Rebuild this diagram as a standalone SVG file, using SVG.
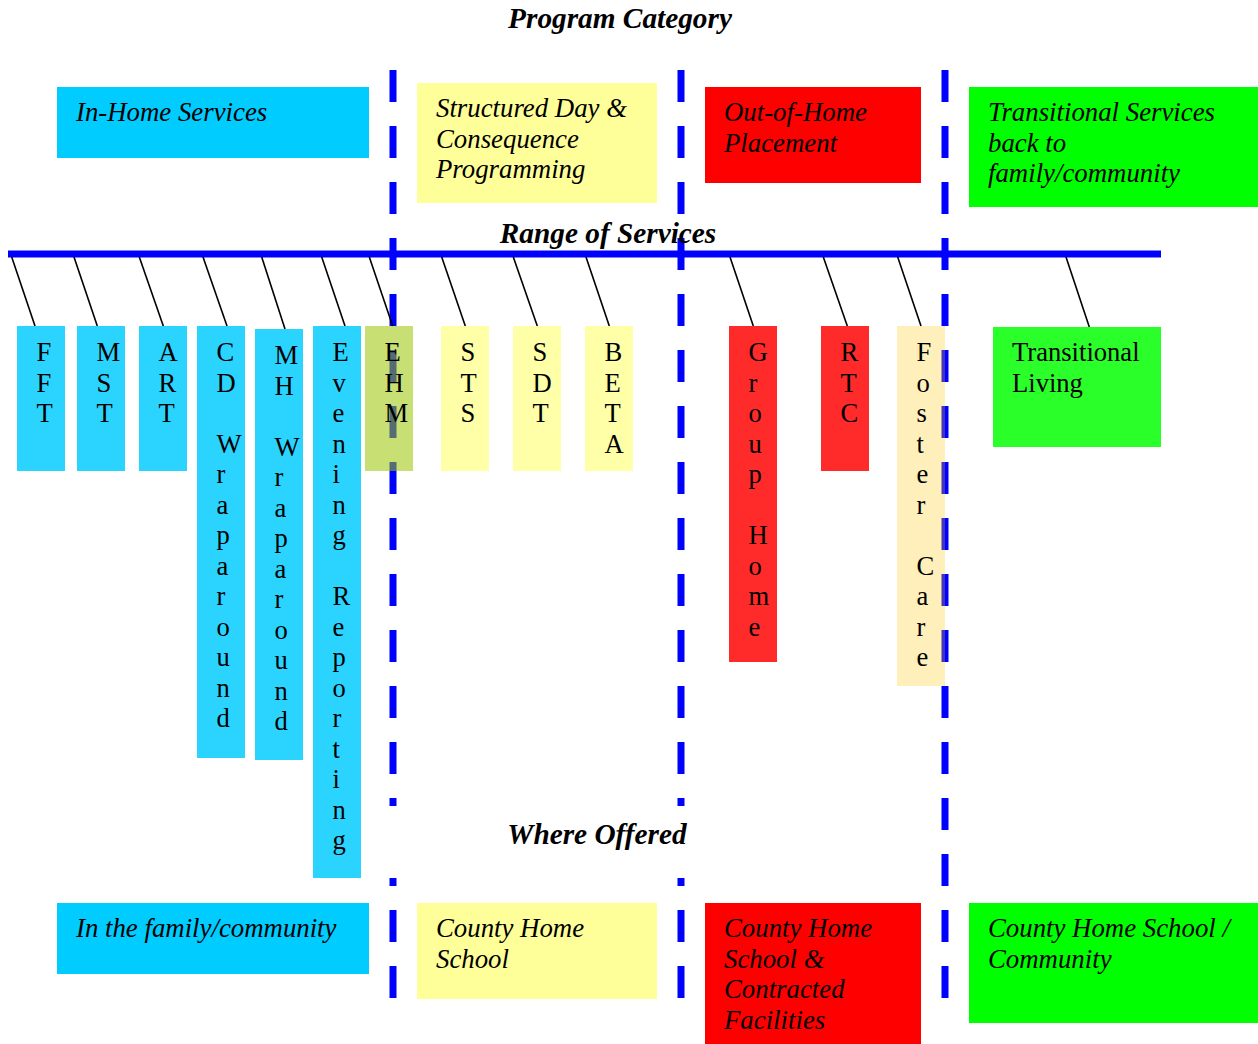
<svg xmlns="http://www.w3.org/2000/svg" width="1258" height="1044" viewBox="0 0 1258 1044">
<style>
  text { font-family: "Liberation Serif", "Times New Roman", serif; fill: #000; }
  .lbl { font-size: 26.6px; }
  .it { font-size: 26.8px; font-style: italic; }
  .ttl { font-size: 29.3px; font-weight: bold; font-style: italic; }
  .sep { stroke: #0000ff; stroke-width: 7; fill: none; stroke-dasharray: 32 24; }
  .conn { stroke: #000; stroke-width: 1.6; fill: none; }
  .cyan { fill: #00ccff; } .yel { fill: #ffff99; } .red { fill: #ff0000; } .grn { fill: #00ff00; }
  .cyan2 { fill: #2ad4ff; } .yel2 { fill: #ffffa8; } .red2 { fill: #ff2a2a; } .grn2 { fill: #2aff2a; }
</style>
<rect width="1258" height="1044" fill="#fff"/>

<g id="separators">
  <path class="sep" d="M393,70 V806"/>
  <path class="sep" d="M393,878 V998" style="stroke-dashoffset:24"/>
  <path class="sep" d="M681,70 V806"/>
  <path class="sep" d="M681,878 V998" style="stroke-dashoffset:24"/>
  <path class="sep" d="M945,70 V998"/>
</g>

<g id="titles">
  <text class="ttl" x="620" y="28" text-anchor="middle">Program Category</text>
  <text class="ttl" x="608" y="243" text-anchor="middle">Range of Services</text>
  <text class="ttl" x="597" y="844" text-anchor="middle">Where Offered</text>
</g>

<g id="range-line">
  <line x1="8" y1="254" x2="1161" y2="254" stroke="#0000ff" stroke-width="7"/>
</g>

<g id="connectors">
  <line class="conn" x1="11.7" y1="257" x2="35" y2="326"/>
  <line class="conn" x1="74" y1="257" x2="97.3" y2="326"/>
  <line class="conn" x1="139.3" y1="257" x2="163.3" y2="326"/>
  <line class="conn" x1="203" y1="257" x2="227" y2="326"/>
  <line class="conn" x1="261.7" y1="257" x2="285" y2="329"/>
  <line class="conn" x1="321.7" y1="257" x2="345" y2="326"/>
  <line class="conn" x1="369.3" y1="257" x2="392.7" y2="326"/>
  <line class="conn" x1="441.7" y1="257" x2="465.3" y2="326"/>
  <line class="conn" x1="513.3" y1="257" x2="537.3" y2="326"/>
  <line class="conn" x1="586" y1="257" x2="609.3" y2="326"/>
  <line class="conn" x1="730" y1="257" x2="753.3" y2="326"/>
  <line class="conn" x1="823.3" y1="257" x2="847.3" y2="326"/>
  <line class="conn" x1="897.7" y1="257" x2="921" y2="326"/>
  <line class="conn" x1="1066" y1="257" x2="1089.3" y2="327"/>
</g>

<g id="cat-inhome">
  <rect class="cyan" x="57" y="87" width="312" height="71"/>
  <text class="it" x="76" y="121">In-Home Services</text>
</g>
<g id="cat-structured">
  <rect class="yel" x="417" y="83" width="240" height="120"/>
  <text class="it" x="436" y="117">Structured Day &amp;<tspan x="436" dy="30.7">Consequence</tspan><tspan x="436" dy="30.7">Programming</tspan></text>
</g>
<g id="cat-outofhome">
  <rect class="red" x="705" y="87" width="216" height="96"/>
  <text class="it" x="724" y="121">Out-of-Home<tspan x="724" dy="30.7">Placement</tspan></text>
</g>
<g id="cat-transitional">
  <rect class="grn" x="969" y="87" width="289" height="120"/>
  <text class="it" x="988" y="121">Transitional Services<tspan x="988" dy="30.5">back to</tspan><tspan x="988" dy="30.5">family/community</tspan></text>
</g>

<g id="svc-fft">
  <rect class="cyan2" x="17" y="326" width="48" height="145"/>
  <text class="lbl" y="361"><tspan x="36.5">F</tspan><tspan x="36.5" dy="30.5">F</tspan><tspan x="36.5" dy="30.5">T</tspan></text>
</g>
<g id="svc-mst">
  <rect class="cyan2" x="77" y="326" width="48" height="145"/>
  <text class="lbl" y="361"><tspan x="96.5">M</tspan><tspan x="96.5" dy="30.5">S</tspan><tspan x="96.5" dy="30.5">T</tspan></text>
</g>
<g id="svc-art">
  <rect class="cyan2" x="139" y="326" width="48" height="145"/>
  <text class="lbl" y="361"><tspan x="158.5">A</tspan><tspan x="158.5" dy="30.5">R</tspan><tspan x="158.5" dy="30.5">T</tspan></text>
</g>
<g id="svc-cd-wraparound">
  <rect class="cyan2" x="197" y="326" width="48" height="432"/>
  <text class="lbl" y="361"><tspan x="216.5">C</tspan><tspan x="216.5" dy="30.5">D</tspan><tspan x="216.5" dy="61">W</tspan><tspan x="216.5" dy="30.5">r</tspan><tspan x="216.5" dy="30.5">a</tspan><tspan x="216.5" dy="30.5">p</tspan><tspan x="216.5" dy="30.5">a</tspan><tspan x="216.5" dy="30.5">r</tspan><tspan x="216.5" dy="30.5">o</tspan><tspan x="216.5" dy="30.5">u</tspan><tspan x="216.5" dy="30.5">n</tspan><tspan x="216.5" dy="30.5">d</tspan></text>
</g>
<g id="svc-mh-wraparound">
  <rect class="cyan2" x="255" y="329" width="48" height="431"/>
  <text class="lbl" y="364"><tspan x="274.5">M</tspan><tspan x="274.5" dy="30.5">H</tspan><tspan x="274.5" dy="61">W</tspan><tspan x="274.5" dy="30.5">r</tspan><tspan x="274.5" dy="30.5">a</tspan><tspan x="274.5" dy="30.5">p</tspan><tspan x="274.5" dy="30.5">a</tspan><tspan x="274.5" dy="30.5">r</tspan><tspan x="274.5" dy="30.5">o</tspan><tspan x="274.5" dy="30.5">u</tspan><tspan x="274.5" dy="30.5">n</tspan><tspan x="274.5" dy="30.5">d</tspan></text>
</g>
<g id="svc-evening-reporting">
  <rect class="cyan2" x="313" y="326" width="48" height="552"/>
  <text class="lbl" y="361"><tspan x="332.5">E</tspan><tspan x="332.5" dy="30.5">v</tspan><tspan x="332.5" dy="30.5">e</tspan><tspan x="332.5" dy="30.5">n</tspan><tspan x="332.5" dy="30.5">i</tspan><tspan x="332.5" dy="30.5">n</tspan><tspan x="332.5" dy="30.5">g</tspan><tspan x="332.5" dy="61">R</tspan><tspan x="332.5" dy="30.5">e</tspan><tspan x="332.5" dy="30.5">p</tspan><tspan x="332.5" dy="30.5">o</tspan><tspan x="332.5" dy="30.5">r</tspan><tspan x="332.5" dy="30.5">t</tspan><tspan x="332.5" dy="30.5">i</tspan><tspan x="332.5" dy="30.5">n</tspan><tspan x="332.5" dy="30.5">g</tspan></text>
</g>
<g id="svc-ehm">
  <rect x="365" y="326" width="48" height="145" fill="#9bc500" fill-opacity="0.55"/>
  <text class="lbl" y="361"><tspan x="384.5">E</tspan><tspan x="384.5" dy="30.5">H</tspan><tspan x="384.5" dy="30.5">M</tspan></text>
</g>
<g id="svc-sts">
  <rect class="yel2" x="441" y="326" width="48" height="145"/>
  <text class="lbl" y="361"><tspan x="460.5">S</tspan><tspan x="460.5" dy="30.5">T</tspan><tspan x="460.5" dy="30.5">S</tspan></text>
</g>
<g id="svc-sdt">
  <rect class="yel2" x="513" y="326" width="48" height="145"/>
  <text class="lbl" y="361"><tspan x="532.5">S</tspan><tspan x="532.5" dy="30.5">D</tspan><tspan x="532.5" dy="30.5">T</tspan></text>
</g>
<g id="svc-beta">
  <rect class="yel2" x="585" y="326" width="48" height="145"/>
  <text class="lbl" y="361"><tspan x="604.5">B</tspan><tspan x="604.5" dy="30.5">E</tspan><tspan x="604.5" dy="30.5">T</tspan><tspan x="604.5" dy="30.5">A</tspan></text>
</g>
<g id="svc-group-home">
  <rect class="red2" x="729" y="326" width="48" height="336"/>
  <text class="lbl" y="361"><tspan x="748.5">G</tspan><tspan x="748.5" dy="30.5">r</tspan><tspan x="748.5" dy="30.5">o</tspan><tspan x="748.5" dy="30.5">u</tspan><tspan x="748.5" dy="30.5">p</tspan><tspan x="748.5" dy="61">H</tspan><tspan x="748.5" dy="30.5">o</tspan><tspan x="748.5" dy="30.5">m</tspan><tspan x="748.5" dy="30.5">e</tspan></text>
</g>
<g id="svc-rtc">
  <rect class="red2" x="821" y="326" width="48" height="145"/>
  <text class="lbl" y="361"><tspan x="840.5">R</tspan><tspan x="840.5" dy="30.5">T</tspan><tspan x="840.5" dy="30.5">C</tspan></text>
</g>
<g id="svc-foster-care">
  <rect x="897" y="326" width="48" height="360" fill="#ffc400" fill-opacity="0.27"/>
  <text class="lbl" y="361"><tspan x="916.5">F</tspan><tspan x="916.5" dy="30.5">o</tspan><tspan x="916.5" dy="30.5">s</tspan><tspan x="916.5" dy="30.5">t</tspan><tspan x="916.5" dy="30.5">e</tspan><tspan x="916.5" dy="30.5">r</tspan><tspan x="916.5" dy="61">C</tspan><tspan x="916.5" dy="30.5">a</tspan><tspan x="916.5" dy="30.5">r</tspan><tspan x="916.5" dy="30.5">e</tspan></text>
</g>
<g id="svc-transitional-living">
  <rect class="grn2" x="993" y="327" width="168" height="120"/>
  <text class="lbl" x="1012" y="361">Transitional<tspan x="1012" dy="30.5">Living</tspan></text>
</g>

<g id="where-family">
  <rect class="cyan" x="57" y="903" width="312" height="71"/>
  <text class="it" x="76" y="937">In the family/community</text>
</g>
<g id="where-chs">
  <rect class="yel" x="417" y="903" width="240" height="96"/>
  <text class="it" x="436" y="937">County Home<tspan x="436" dy="30.5">School</tspan></text>
</g>
<g id="where-chs-contracted">
  <rect class="red" x="705" y="903" width="216" height="141"/>
  <text class="it" x="724" y="937">County Home<tspan x="724" dy="30.7">School &amp;</tspan><tspan x="724" dy="30.7">Contracted</tspan><tspan x="724" dy="30.7">Facilities</tspan></text>
</g>
<g id="where-chs-community">
  <rect class="grn" x="969" y="903" width="289" height="120"/>
  <text class="it" x="988" y="937">County Home School /<tspan x="988" dy="30.7">Community</tspan></text>
</g>
</svg>
